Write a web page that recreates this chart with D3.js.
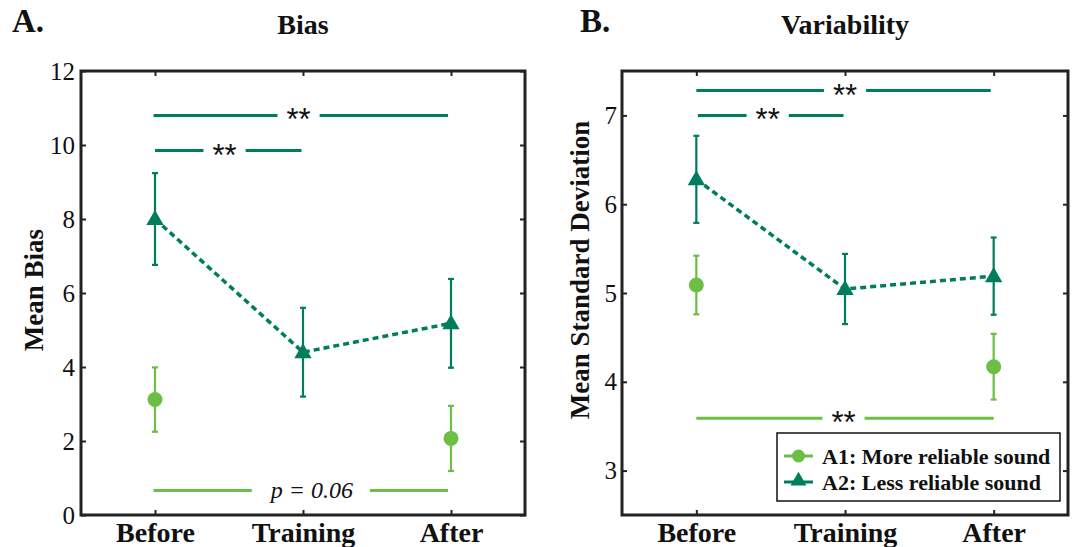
<!DOCTYPE html>
<html>
<head>
<meta charset="utf-8">
<script src="https://cdn.jsdelivr.net/npm/d3@7"></script>
<style>
  body { margin: 0; background: #fff; }
  svg { display: block; }
  text { font-family: "Liberation Serif", "Times New Roman", serif; fill: #111; }
</style>
</head>
<body>
<svg id="chart" width="1077" height="547"></svg>
<script>
// categories on the x axis
var categories = ['Before', 'Training', 'After'];

// panel A: mean bias (null = not measured)
var biasA1 = [3.12, null, 2.07];
var biasA1Err = [0.87, null, 0.88];
var biasA2 = [8.0, 4.4, 5.18];
var biasA2Err = [1.24, 1.2, 1.2];

// panel B: mean standard deviation
var sdA1 = [5.09, null, 4.17];
var sdA1Err = [0.33, null, 0.37];
var sdA2 = [6.28, 5.045, 5.19];
var sdA2Err = [0.49, 0.395, 0.435];

// y ticks
var biasTicks = [0, 2, 4, 6, 8, 10, 12];
var sdTicks = [3, 4, 5, 6, 7];

// significance bars: from/to category index (1-based), y value, label, label x
var biasSig = [
  { from: 0.99, to: 2.98, y: 10.8, label: '**', at: 1.97, group: 'A2' },
  { from: 1.0, to: 1.99, y: 9.85, label: '**', at: 1.47, group: 'A2' },
  { from: 0.99, to: 2.98, y: 0.66, label: 'p = 0.06', at: 2.06, group: 'A1' }
];
var sdSig = [
  { from: 1.0, to: 2.98, y: 7.28, label: '**', at: 2.0, group: 'A2' },
  { from: 1.01, to: 1.99, y: 7.0, label: '**', at: 1.48, group: 'A2' },
  { from: 1.0, to: 3.0, y: 3.59, label: '**', at: 1.99, group: 'A1' }
];

var legendLabels = ['A1: More reliable sound', 'A2: Less reliable sound'];

var colors = { A1: '#6cbe45', A2: '#007d5c' };

var svg = d3.select('#chart');

function drawPanel(opts) {
  var g = svg.append('g');
  var x = d3.scaleLinear().domain([0.5, 3.5]).range([opts.left, opts.right]);
  var y = d3.scaleLinear().domain(opts.yDomain).range([opts.bottom, opts.top]);

  // axes, ticks pointing inward on all four sides
  var fmt = function(d) { return d; };
  g.append('g')
    .attr('transform', 'translate(' + opts.left + ',0)')
    .call(d3.axisLeft(y).tickValues(opts.ticks).tickFormat(fmt).tickSizeInner(-5).tickSizeOuter(0).tickPadding(opts.tickPad))
    .call(function(s) {
      s.select('.domain').remove();
      s.selectAll('text').style('font-family', '"Liberation Serif", serif').style('font-size', '25px').attr('fill', '#222');
    });
  g.append('g')
    .attr('transform', 'translate(' + opts.right + ',0)')
    .call(d3.axisRight(y).tickValues(opts.ticks).tickFormat('').tickSizeInner(-5).tickSizeOuter(0))
    .call(function(s) { s.select('.domain').remove(); });
  g.append('g')
    .attr('transform', 'translate(0,' + opts.bottom + ')')
    .call(d3.axisBottom(x).tickValues([1, 2, 3]).tickFormat(function(d) { return categories[d - 1]; })
      .tickSizeInner(-5).tickSizeOuter(0).tickPadding(7))
    .call(function(s) {
      s.select('.domain').remove();
      s.selectAll('text').style('font-family', '"Liberation Serif", serif').style('font-size', '28px')
        .style('font-weight', 'bold').attr('fill', '#111');
    });
  g.append('g')
    .attr('transform', 'translate(0,' + opts.top + ')')
    .call(d3.axisTop(x).tickValues([1, 2, 3]).tickFormat('').tickSizeInner(-5).tickSizeOuter(0))
    .call(function(s) { s.select('.domain').remove(); });
  g.selectAll('.tick line').attr('stroke', '#222').attr('stroke-width', 2);

  g.append('rect')
    .attr('x', opts.left).attr('y', opts.top)
    .attr('width', opts.right - opts.left).attr('height', opts.bottom - opts.top)
    .attr('fill', 'none').attr('stroke', '#222').attr('stroke-width', 3);

  // significance bars
  opts.sig.forEach(function(s) {
    var isP = s.label !== '**';
    var t = g.append('text')
      .attr('x', x(s.at))
      .attr('y', y(s.y) + (isP ? 7 : 15))
      .attr('text-anchor', 'middle')
      .style('font-family', isP ? '"Liberation Serif", serif' : '"Liberation Sans", Arial, sans-serif')
      .style('font-style', isP ? 'italic' : 'normal')
      .style('font-size', isP ? '24px' : '31px')
      .attr('fill', '#111')
      .text(s.label);
    var bb = t.node().getBBox();
    var pad = isP ? 17 : 9;
    [[x(s.from), bb.x - pad], [bb.x + bb.width + pad, x(s.to)]].forEach(function(seg) {
      g.append('line')
        .attr('x1', seg[0]).attr('x2', seg[1])
        .attr('y1', y(s.y)).attr('y2', y(s.y))
        .attr('stroke', colors[s.group]).attr('stroke-width', 3);
    });
  });

  // A2 dashed line
  var pts2 = opts.a2.map(function(v, i) { return [i + 1, v]; });
  g.append('path')
    .datum(pts2)
    .attr('d', d3.line().x(function(d) { return x(d[0]); }).y(function(d) { return y(d[1]); }))
    .attr('fill', 'none').attr('stroke', colors.A2).attr('stroke-width', 3.5)
    .attr('stroke-dasharray', '6,4');

  function errBars(vals, errs, color) {
    vals.forEach(function(v, i) {
      if (v === null) return;
      var cx = x(i + 1), lo = y(v - errs[i]), hi = y(v + errs[i]);
      g.append('line').attr('x1', cx).attr('x2', cx).attr('y1', lo).attr('y2', hi)
        .attr('stroke', color).attr('stroke-width', 2.2);
      [lo, hi].forEach(function(yy) {
        g.append('line').attr('x1', cx - 3).attr('x2', cx + 3).attr('y1', yy).attr('y2', yy)
          .attr('stroke', color).attr('stroke-width', 2.2);
      });
    });
  }
  errBars(opts.a1, opts.a1Err, colors.A1);
  errBars(opts.a2, opts.a2Err, colors.A2);

  var tri = d3.symbol().type(d3.symbolTriangle).size(130);
  opts.a2.forEach(function(v, i) {
    g.append('path').attr('d', tri())
      .attr('transform', 'translate(' + x(i + 1) + ',' + (y(v) + 1) + ')')
      .attr('fill', colors.A2);
  });
  opts.a1.forEach(function(v, i) {
    if (v === null) return;
    g.append('circle').attr('cx', x(i + 1)).attr('cy', y(v)).attr('r', 7.5).attr('fill', colors.A1);
  });

  // titles and labels
  g.append('text').attr('x', opts.letterX).attr('y', 32)
    .style('font-size', '33px').style('font-weight', 'bold').text(opts.letter);
  g.append('text').attr('x', (opts.left + opts.right) / 2).attr('y', 34)
    .attr('text-anchor', 'middle').style('font-size', '28px').style('font-weight', 'bold').text(opts.title);
  g.append('text')
    .attr('transform', 'translate(' + opts.ylabX + ',' + opts.ylabY + ') rotate(-90)')
    .attr('text-anchor', 'middle').style('font-size', '27px').style('font-weight', 'bold').text(opts.ylabel);

  return { x: x, y: y, g: g };
}

drawPanel({
  left: 81, right: 525, top: 71, bottom: 515,
  yDomain: [0, 12], ticks: biasTicks, tickPad: 6,
  a1: biasA1, a1Err: biasA1Err, a2: biasA2, a2Err: biasA2Err,
  sig: biasSig,
  letter: 'A.', letterX: 12, title: 'Bias',
  ylabel: 'Mean Bias', ylabX: 43, ylabY: 290
});

var pB = drawPanel({
  left: 622, right: 1068, top: 71, bottom: 515,
  yDomain: [2.5, 7.5], ticks: sdTicks, tickPad: 5,
  a1: sdA1, a1Err: sdA1Err, a2: sdA2, a2Err: sdA2Err,
  sig: sdSig,
  letter: 'B.', letterX: 580, title: 'Variability',
  ylabel: 'Mean Standard Deviation', ylabX: 589, ylabY: 270
});

// legend in panel B
var leg = pB.g.append('g');
leg.append('rect').attr('x', 777).attr('y', 433).attr('width', 283).attr('height', 68)
  .attr('fill', '#fff').attr('stroke', '#111').attr('stroke-width', 1.5);
legendLabels.forEach(function(lbl, i) {
  var ry = 456 + i * 26;
  var key = i === 0 ? 'A1' : 'A2';
  leg.append('line').attr('x1', 784).attr('x2', 813).attr('y1', ry).attr('y2', ry)
    .attr('stroke', colors[key]).attr('stroke-width', 3);
  if (key === 'A1') {
    leg.append('circle').attr('cx', 798.5).attr('cy', ry).attr('r', 6.5).attr('fill', colors.A1);
  } else {
    leg.append('path').attr('d', d3.symbol().type(d3.symbolTriangle).size(110)())
      .attr('transform', 'translate(798.5,' + (ry - 1) + ')').attr('fill', colors.A2);
  }
  leg.append('text').attr('x', 822).attr('y', ry + 8)
    .style('font-size', '22px').style('font-weight', 'bold').text(lbl);
});
</script>
</body>
</html>
